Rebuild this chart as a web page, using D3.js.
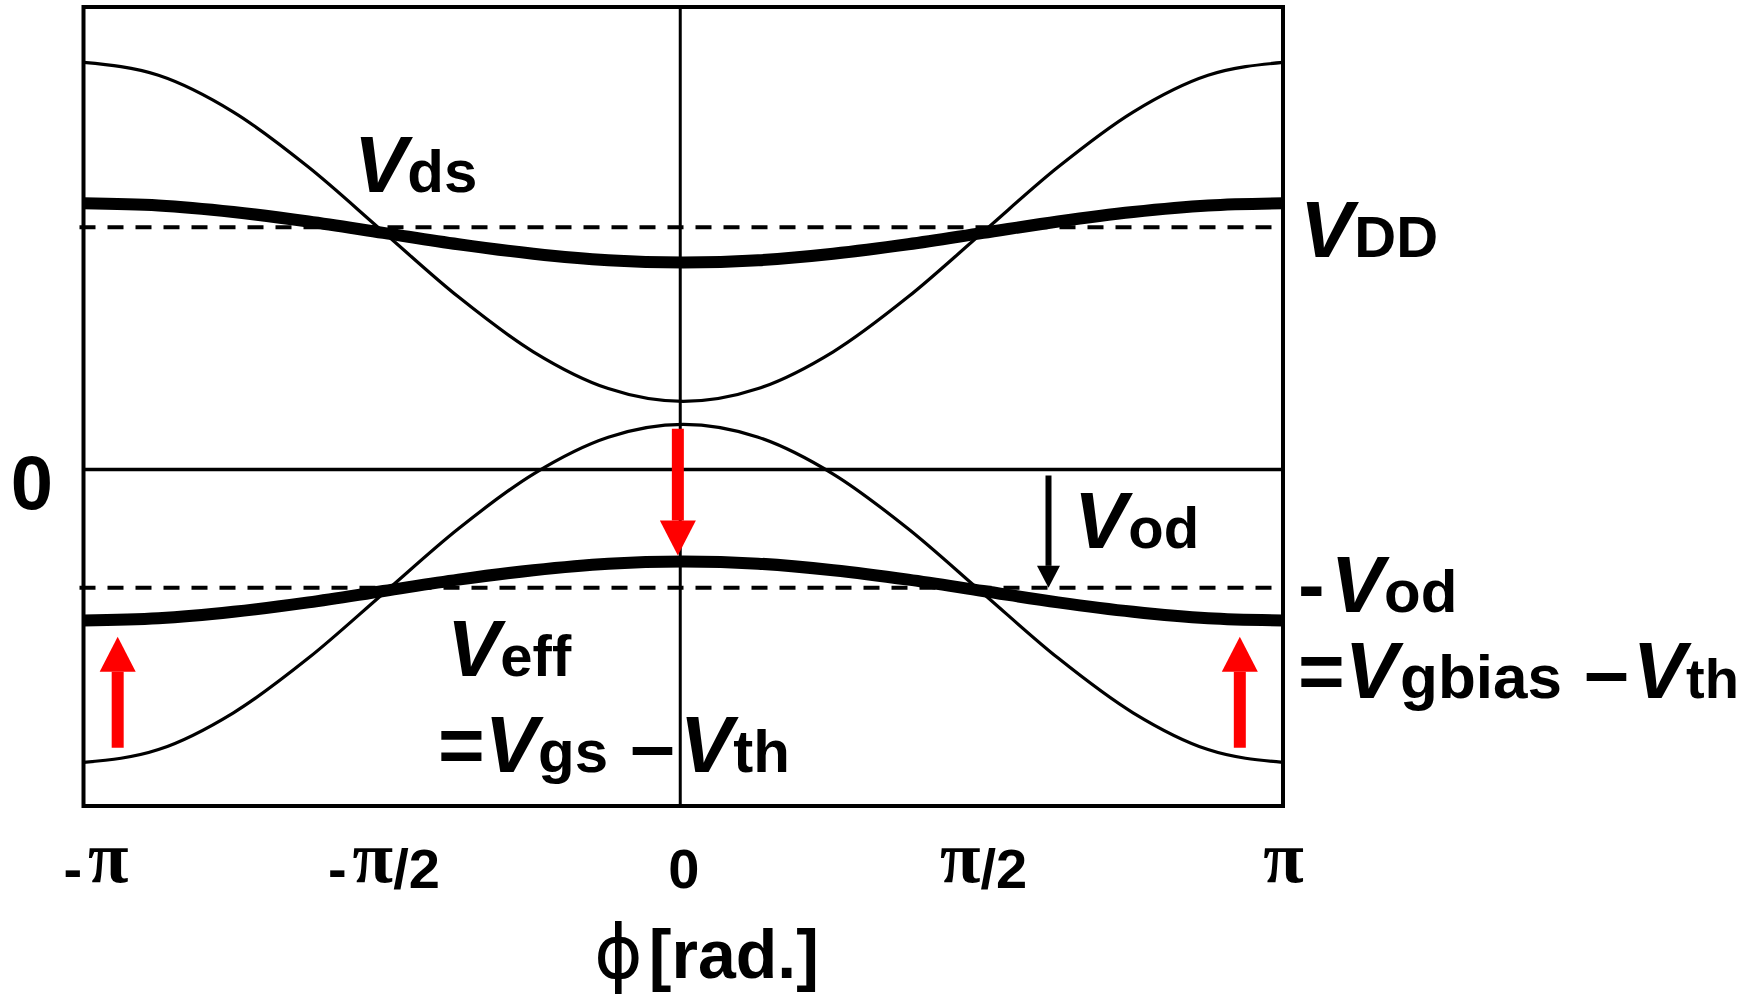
<!DOCTYPE html>
<html><head><meta charset="utf-8">
<script src="https://cdn.jsdelivr.net/npm/d3@7"></script>
<style>
html,body{margin:0;padding:0;background:#fff;}
svg{display:block;}
text{font-family:"Liberation Sans",Arial,sans-serif;font-weight:bold;fill:#000;}
</style>
</head><body>
<svg id="chart" width="1747" height="1001"></svg>
<script>
const PI = Math.PI;

// phase samples (in units of pi)
const phaseSamples = [-1, -0.875, -0.75, -0.625, -0.5, -0.375, -0.25, -0.125, 0, 0.125, 0.25, 0.375, 0.5, 0.625, 0.75, 0.875, 1];
// Vds: thin = large swing, thick = reduced swing
const vdsThin  = [1.681, 1.628, 1.476, 1.249, 0.981, 0.713, 0.486, 0.334, 0.281, 0.334, 0.486, 0.713, 0.981, 1.249, 1.476, 1.628, 1.681];
const vdsThick = [1.099, 1.090, 1.063, 1.024, 0.977, 0.930, 0.891, 0.864, 0.855, 0.864, 0.891, 0.930, 0.977, 1.024, 1.063, 1.090, 1.099];
// Veff: thin = large swing, thick = reduced swing
const veffThin  = [-1.210, -1.157, -1.005, -0.779, -0.512, -0.245, -0.019, 0.133, 0.186, 0.133, -0.019, -0.245, -0.512, -0.779, -1.005, -1.157, -1.210];
const veffThick = [-0.624, -0.615, -0.588, -0.549, -0.502, -0.455, -0.416, -0.389, -0.380, -0.389, -0.416, -0.455, -0.502, -0.549, -0.588, -0.615, -0.624];
// reference levels: VDD and -Vod
const refLevels = [1.0, -0.489];
// x ticks (units of pi) and their labels
const tickPhase = [-1, -0.5, 0, 0.5, 1];
const tickLabels = [
  [["-", "s"], ["π", "p"]],
  [["-", "s"], ["π", "p"], ["/2", "s"]],
  [["0", "s"]],
  [["π", "p"], ["/2", "s"]],
  [["π", "p"]]
];
// red arrows: phase (units of pi), start value, tip value
const redArrowPhase = [-0.943, -0.009, 0.928];
const redArrowFrom  = [-1.149, 0.168, -1.149];
const redArrowTo    = [-0.691, -0.355, -0.691];
// black Vod arrow
const vodArrowPhase = 0.609;
const vodArrowFrom = -0.025;
const vodArrowTo = -0.489;

const svg = d3.select("#chart");
const x = d3.scaleLinear().domain([-PI, PI]).range([83.5, 1283]);
const y = d3.scaleLinear().domain([-1.39, 1.91]).range([806, 7]);

const g = svg.append("g");

// dashed reference lines
g.selectAll("line.ref").data(refLevels).join("line")
  .attr("class", "ref")
  .attr("x1", x(-PI) - 4).attr("x2", x(PI) - 10)
  .attr("y1", d => y(d)).attr("y2", d => y(d))
  .attr("stroke", "#000").attr("stroke-width", 4)
  .attr("stroke-dasharray", "16,12");

// zero line and phase 0 line
g.append("line").attr("x1", x(-PI)).attr("x2", x(PI)).attr("y1", y(0)).attr("y2", y(0))
  .attr("stroke", "#000").attr("stroke-width", 3.5);
g.append("line").attr("x1", x(0) - 3).attr("x2", x(0) - 3).attr("y1", y(1.91)).attr("y2", y(-1.39))
  .attr("stroke", "#000").attr("stroke-width", 3);

// curves
const lineGen = d3.line().x((d, i) => x(phaseSamples[i] * PI)).y(d => y(d)).curve(d3.curveMonotoneX);
[[vdsThin, 3.2], [vdsThick, 12], [veffThin, 3.2], [veffThick, 12]].forEach(([arr, w]) => {
  g.append("path").datum(arr).attr("d", lineGen)
    .attr("fill", "none").attr("stroke", "#000").attr("stroke-width", w);
});

// frame
g.append("rect").attr("x", x(-PI)).attr("y", y(1.91))
  .attr("width", x(PI) - x(-PI)).attr("height", y(-1.39) - y(1.91))
  .attr("fill", "none").attr("stroke", "#000").attr("stroke-width", 4);

// arrows
function arrow(px, v0, v1, shaftW, headW, headL, color) {
  const X = x(px * PI), Y0 = y(v0), Y1 = y(v1);
  const dir = Y1 > Y0 ? 1 : -1;
  const base = Y1 - dir * headL;
  g.append("line").attr("x1", X).attr("x2", X).attr("y1", Y0).attr("y2", base)
    .attr("stroke", color).attr("stroke-width", shaftW);
  g.append("path").attr("d", `M${X - headW / 2},${base}L${X + headW / 2},${base}L${X},${Y1}Z`).attr("fill", color);
}
redArrowPhase.forEach((p, i) => arrow(p, redArrowFrom[i], redArrowTo[i], 12, 36, 35, "#ff0000"));
arrow(vodArrowPhase, vodArrowFrom, vodArrowTo, 6, 23, 22, "#000");

// x axis (labels only)
const axis = d3.axisBottom(x).tickValues(tickPhase.map(p => p * PI)).tickSize(0).tickFormat(() => "");
const ax = svg.append("g").attr("transform", `translate(0,${y(-1.39)})`).call(axis);
ax.select(".domain").remove();
ax.selectAll(".tick").each(function (d, i) {
  const t = d3.select(this).append("text").attr("y", 82).attr("text-anchor", "middle")
    .attr("dx", i === 0 ? 12 : 0);
  tickLabels[i].forEach(([s, f], j) => {
    const ts = t.append("tspan").text(s);
    if (f === "p") ts.style("font-family", "'Liberation Serif','DejaVu Serif',serif").style("font-weight", "bold").style("font-size", "74px").attr("dy", -6);
    else ts.style("font-size", "56px").attr("dy", j > 0 ? 6 : 0);
    if (f === "p" && j > 0) ts.attr("dx", 6);
  });
});

// axis title
const title = svg.append("text").attr("x", 594).attr("y", 978);
title.append("tspan").text("ϕ").style("font-family", "'DejaVu Sans',sans-serif").style("font-weight", "normal").style("font-size", "74px");
title.append("tspan").text("[rad.]").attr("dx", 6).style("font-size", "68px");

// y label "0"
svg.append("text").attr("x", 32).attr("y", 509).attr("text-anchor", "middle").style("font-size", "76px").text("0");

// rich labels
function rich(x0, y0, parts) {
  const t = svg.append("text").attr("x", x0).attr("y", y0);
  parts.forEach(([s, k, dx, fs]) => {
    const ts = t.append("tspan").text(s);
    if (k === "V") ts.style("font-size", "80px").style("font-style", "italic");
    else if (k === "b") ts.style("font-size", "80px");
    else ts.style("font-size", (fs || 60) + "px");
    if (dx) ts.attr("dx", dx);
  });
}
rich(354, 192, [["V", "V"], ["ds", "s"]]);
rich(1300, 257, [["V", "V"], ["DD", "s", 1, 58]]);
rich(1074, 548, [["V", "V"], ["od", "s", 1, 58]]);
rich(1298, 612, [["-", "b"], ["V", "V", 6], ["od", "s"]]);
rich(1298, 698, [["=", "b"], ["V", "V"], ["gbias", "s", 2, 62], [" –", "b"], ["V", "V", 4], ["th", "s", 0, 56]]);
rich(447, 676, [["V", "V"], ["eff", "s", 0, 58]]);
rich(438, 772, [["=", "b"], ["V", "V"], ["gs", "s"], [" –", "b"], ["V", "V", 5], ["th", "s"]]);
</script>
</body></html>
